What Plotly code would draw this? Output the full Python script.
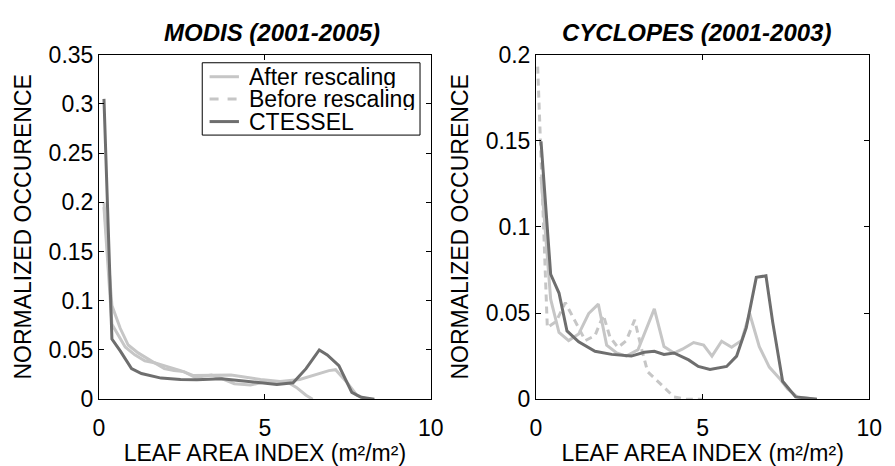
import plotly.graph_objects as go

# ---- MODIS (2001-2005) ----
modis_ctessel_x = [0.15, 0.39, 0.64, 0.98, 1.28, 1.87, 2.46, 2.95, 3.69, 4.28, 4.87, 5.36, 5.85, 6.24, 6.64, 6.88, 7.23, 7.62, 7.9, 8.3]
modis_ctessel_y = [0.305, 0.061, 0.049, 0.031, 0.026, 0.0214, 0.020, 0.0198, 0.0208, 0.019, 0.0166, 0.015, 0.0166, 0.031, 0.050, 0.045, 0.034, 0.007, 0.002, 0.0]

modis_after_x = [0.15, 0.39, 0.64, 0.88, 1.18, 1.67, 2.06, 2.46, 2.85, 3.39, 3.98, 4.87, 5.46, 6.05, 6.54, 6.93, 7.13, 7.45, 7.77, 8.1]
modis_after_y = [0.200, 0.095, 0.072, 0.055, 0.047, 0.037, 0.033, 0.029, 0.024, 0.024, 0.0246, 0.020, 0.018, 0.020, 0.0246, 0.029, 0.030, 0.018, 0.004, 0.0]

modis_before_x = [0.15, 0.39, 0.79, 1.08, 1.38, 1.67, 1.97, 2.26, 2.56, 2.9, 3.39, 3.7, 4.08, 4.57, 5.06, 5.65, 5.95, 6.24, 6.44]
modis_before_y = [0.195, 0.076, 0.053, 0.045, 0.039, 0.037, 0.031, 0.029, 0.028, 0.022, 0.0246, 0.021, 0.0157, 0.0144, 0.018, 0.018, 0.012, 0.004, 0.0]

# ---- CYCLOPES (2001-2003) ----
cyc_ctessel_x = [0.15, 0.44, 0.69, 0.93, 1.28, 1.77, 2.27, 2.86, 3.25, 3.55, 3.84, 4.14, 4.58, 4.87, 5.22, 5.72, 6.02, 6.31, 6.61, 6.9, 7.1, 7.4, 7.79, 8.43]
cyc_ctessel_y = [0.1496, 0.0725, 0.0616, 0.0396, 0.0333, 0.0278, 0.026, 0.025, 0.0272, 0.0278, 0.026, 0.0268, 0.0228, 0.019, 0.0172, 0.019, 0.025, 0.0415, 0.0707, 0.0716, 0.045, 0.0104, 0.0013, 0.0]

cyc_after_x = [0.15, 0.44, 0.69, 0.98, 1.28, 1.58, 1.87, 2.12, 2.42, 2.71, 3.06, 3.31, 3.55, 3.84, 4.14, 4.39, 4.73, 5.03, 5.28, 5.57, 5.87, 6.17, 6.41, 6.7, 7.0, 7.3, 7.55, 7.84, 8.43]
cyc_after_y = [0.129, 0.058, 0.0387, 0.034, 0.0378, 0.0497, 0.0552, 0.0314, 0.0268, 0.025, 0.0287, 0.0405, 0.0524, 0.0305, 0.0268, 0.029, 0.0329, 0.0314, 0.025, 0.0336, 0.0301, 0.0341, 0.0497, 0.0305, 0.0186, 0.0122, 0.0059, 0.0013, 0.0]

cyc_before_x = [0.05, 0.34, 0.6, 0.88, 1.18, 1.48, 1.77, 2.02, 2.22, 2.46, 2.71, 2.96, 3.15, 3.35, 3.75, 4.14, 4.5, 5.0]
cyc_before_y = [0.193, 0.0415, 0.045, 0.056, 0.045, 0.034, 0.0369, 0.0488, 0.036, 0.030, 0.034, 0.046, 0.0305, 0.0159, 0.0086, 0.0013, 0.0, 0.0]

series_names = ["After rescaling", "Before rescaling", "CTESSEL"]
panel_titles = ["MODIS (2001-2005)", "CYCLOPES (2001-2003)"]
x_title = "LEAF AREA INDEX (m\u00b2/m\u00b2)"
y_title = "NORMALIZED OCCURENCE"

LIGHT = "#c6c6c6"
DARK = "#6e6e6e"
LW = 3
FONT = "Liberation Sans, Arial, Helvetica, sans-serif"
FS = 23        # tick labels, legend
FS_AX = 23     # axis titles
FS_T = 24      # panel titles

W, H = 895, 466

fig = go.Figure()

def add_line(x, y, color, xa, ya, dash="solid"):
    fig.add_trace(go.Scatter(x=x, y=y, mode="lines", xaxis=xa, yaxis=ya,
                             line=dict(color=color, width=LW, dash=dash),
                             showlegend=False, hoverinfo="skip"))

# left panel
add_line(modis_before_x, modis_before_y, LIGHT, "x", "y")
add_line(modis_after_x, modis_after_y, LIGHT, "x", "y")
add_line(modis_ctessel_x, modis_ctessel_y, DARK, "x", "y")
# right panel
add_line(cyc_before_x, cyc_before_y, LIGHT, "x2", "y2", dash="7px,5px")
add_line(cyc_after_x, cyc_after_y, LIGHT, "x2", "y2")
add_line(cyc_ctessel_x, cyc_ctessel_y, DARK, "x2", "y2")

# axes placement (pixels)
L1, R1 = 95, 434
L2, R2 = 541.5, 882
TOP, BOT = 44, 409

axis_common = dict(showline=True, linecolor="black", linewidth=1, mirror="ticks",
                   ticks="inside", ticklen=5, tickcolor="black", showgrid=False,
                   zeroline=False, tickfont=dict(family=FONT, size=FS, color="black"))
xtitle = dict(text=x_title, standoff=6, font=dict(family=FONT, size=FS_AX, color="black"))
ytitle = dict(text=y_title, standoff=10, font=dict(family=FONT, size=FS_AX, color="black"))

fig.update_layout(
    width=W, height=H, margin=dict(l=0, r=0, t=0, b=0),
    paper_bgcolor="white", plot_bgcolor="white",
    font=dict(family=FONT, size=FS, color="black"),
    xaxis=dict(domain=[L1 / W, R1 / W], range=[0, 10], tickvals=[0, 5, 10],
               ticklabelstandoff=8, title=xtitle, anchor="y", **axis_common),
    yaxis=dict(domain=[1 - BOT / H, 1 - TOP / H], range=[0, 0.35], dtick=0.05,
               title=ytitle, anchor="x", **axis_common),
    xaxis2=dict(domain=[L2 / W, R2 / W], range=[0, 10], tickvals=[0, 5, 10],
                ticklabelstandoff=8, title=xtitle, anchor="y2", **axis_common),
    yaxis2=dict(domain=[1 - BOT / H, 1 - TOP / H], range=[0, 0.2], dtick=0.05,
                title=ytitle, anchor="x2", **axis_common),
)

# panel titles
for t, cx in zip(panel_titles, [272, 705]):
    fig.add_annotation(text="<b><i>" + t + "</i></b>", xref="paper", yref="paper",
                       x=cx / W, y=1 - 21 / H, xanchor="center", yanchor="middle",
                       showarrow=False, font=dict(family=FONT, size=FS_T, color="black"))

# legend box in the left panel
bx0, bx1, by0, by1 = 200.5, 423, 52.7, 129.3
fig.add_shape(type="rect", xref="paper", yref="paper",
              x0=bx0 / W, x1=bx1 / W, y0=1 - by1 / H, y1=1 - by0 / H,
              line=dict(color="black", width=1), fillcolor="white", layer="above")
legend_rows = [67.5, 91.0, 115.0]
legend_styles = [(LIGHT, "solid"), (LIGHT, "dash"), (DARK, "solid")]
for name, yy, (col, dsh) in zip(series_names, legend_rows, legend_styles):
    fig.add_shape(type="line", xref="paper", yref="paper",
                  x0=208 / W, x1=238 / W, y0=1 - yy / H, y1=1 - yy / H,
                  line=dict(color=col, width=LW, dash=dsh), layer="above")
    fig.add_annotation(text=name, xref="paper", yref="paper", x=246 / W, y=1 - yy / H,
                       xanchor="left", yanchor="middle", showarrow=False, height=23,
                       font=dict(family=FONT, size=FS, color="black"))

fig.write_html("out.html")
